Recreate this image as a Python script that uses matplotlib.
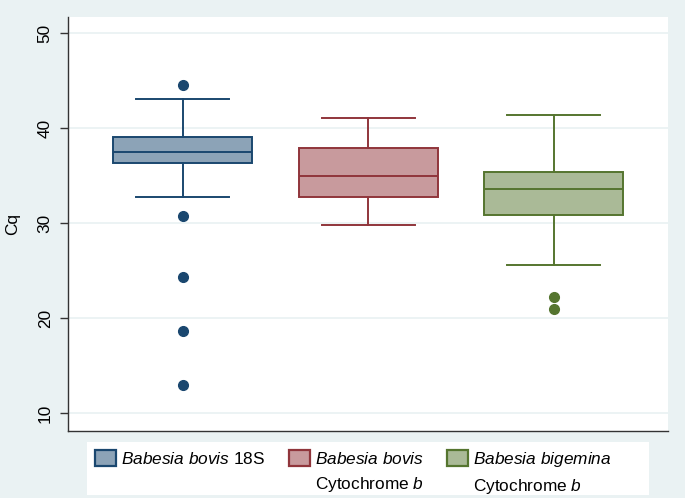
import numpy as np
import matplotlib.pyplot as plt
from matplotlib.patches import Patch, Rectangle

plt.rcParams['font.family'] = ['Liberation Sans', 'DejaVu Sans']
plt.rcParams['mathtext.fontset'] = 'custom'
plt.rcParams['mathtext.rm'] = 'Liberation Sans'
plt.rcParams['mathtext.it'] = 'Liberation Sans:italic'

# --- box summaries (Cq values) ---
groups = ['B. bovis 18S', 'B. bovis Cyt b', 'B. bigemina Cyt b']
q1 = [36.3, 32.8, 30.9]
medians = [37.55, 35.0, 33.6]
q3 = [39.1, 37.9, 35.4]
whisk_lo = [32.75, 29.85, 25.6]
whisk_hi = [43.05, 41.1, 41.35]
outliers = [[44.6, 30.8, 24.3, 18.65, 12.95], [], [22.2, 20.95]]

legend_top = [r'$\mathit{Babesia\ bovis}$ 18S',
              r'$\mathit{Babesia\ bovis}$',
              r'$\mathit{Babesia\ bigemina}$']
legend_bottom = ['', r'Cytochrome $\mathit{b}$', r'Cytochrome $\mathit{b}$']

edge_cols = ['#1a476f', '#90353b', '#55752f']
fill_cols = ['#8ca3b7', '#c89a9d', '#aaba97']
BG = '#eaf2f3'

fig = plt.figure(figsize=(6.85, 4.98), dpi=100)
fig.patch.set_facecolor(BG)
ax = fig.add_axes([0.0993, 0.1351, 0.8763, 0.8308])
ax.set_facecolor('white')

stats = []
for i in range(len(groups)):
    stats.append(dict(label=groups[i], q1=q1[i], med=medians[i], q3=q3[i],
                      whislo=whisk_lo[i], whishi=whisk_hi[i], fliers=outliers[i]))

lw = 1.4
for i, st in enumerate(stats):
    c = edge_cols[i]
    ax.bxp([st], positions=[i + 1], widths=0.75, capwidths=0.5, patch_artist=True,
           boxprops=dict(facecolor=fill_cols[i], edgecolor=c, linewidth=lw),
           medianprops=dict(color=c, linewidth=lw),
           whiskerprops=dict(color=c, linewidth=lw),
           capprops=dict(color=c, linewidth=lw),
           flierprops=dict(marker='o', markerfacecolor=c, markeredgecolor=c, markersize=7),
           manage_ticks=False, zorder=3)

ax.set_xlim(0.382, 3.618)
ax.set_ylim(8.17, 51.72)
ax.set_xticks([])
ax.set_yticks([10, 20, 30, 40, 50])
ax.tick_params(axis='y', labelrotation=90, labelsize=12.4, length=6, width=1,
               color='#333333', pad=5)
for lab in ax.get_yticklabels():
    lab.set_va('center')
ax.grid(axis='y', color=BG, linewidth=1.3, zorder=0)
ax.set_axisbelow(True)
ax.set_ylabel('Cq', fontsize=12.4, labelpad=13)

for s in ['top', 'right']:
    ax.spines[s].set_visible(False)
for s in ['left', 'bottom']:
    ax.spines[s].set_color('#333333')
    ax.spines[s].set_linewidth(1.0)

# legend background box
fig.patches.append(Rectangle((87 / 685, 3 / 498), 562 / 685, 53 / 498,
                             transform=fig.transFigure, facecolor='white',
                             edgecolor='none', zorder=0))

handles = [Patch(facecolor=fill_cols[i], edgecolor=edge_cols[i], linewidth=1.6)
           for i in range(len(groups))]
leg = fig.legend(handles, legend_top, ncol=3, loc='upper left',
                 bbox_to_anchor=(95 / 685, 1 - 450 / 498), frameon=False,
                 fontsize=12.4, handlelength=1.22, handleheight=1.0,
                 handletextpad=0.3, columnspacing=1.35, borderpad=0,
                 borderaxespad=0)

fig.canvas.draw()
for txt, extra in zip(leg.get_texts(), legend_bottom):
    if extra:
        bb = txt.get_window_extent()
        fig.text(bb.x0 / 685, (bb.y0 - 8) / 498, extra, fontsize=12.4,
                 ha='left', va='top')

fig.savefig('out.png', dpi=100, facecolor=BG)
